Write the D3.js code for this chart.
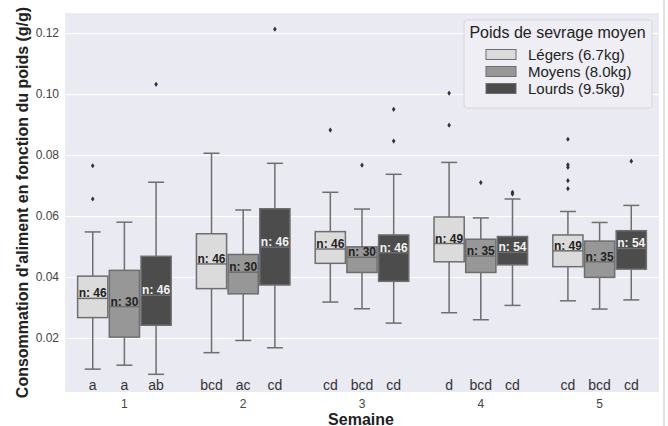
<!DOCTYPE html>
<html>
<head>
<meta charset="utf-8">
<script src="https://cdn.jsdelivr.net/npm/d3@7"></script>
<style>
  html, body { margin: 0; padding: 0; background: #ffffff; }
  svg { display: block; font-family: "Liberation Sans", Arial, sans-serif; }
</style>
</head>
<body>
<svg id="chart" width="668" height="426"></svg>
<script>
// ---------- data ----------
const weeks = ["1", "2", "3", "4", "5"];
const groups = ["Légers (6.7kg)", "Moyens (8.0kg)", "Lourds (9.5kg)"];
const legendTitle = "Poids de sevrage moyen";
const yTicks = [0.02, 0.04, 0.06, 0.08, 0.10, 0.12];

const lightLow  = [0.0098, 0.0152, 0.0318, 0.0283, 0.0322];
const lightQ1   = [0.0267, 0.0362, 0.0445, 0.0450, 0.0434];
const lightMed  = [0.0330, 0.0443, 0.0492, 0.0510, 0.0486];
const lightQ3   = [0.0403, 0.0542, 0.0549, 0.0597, 0.0538];
const lightHigh = [0.0548, 0.0806, 0.0678, 0.0776, 0.0615];
const lightOut  = [[0.0765, 0.0656], [], [0.0882], [0.1003, 0.0898], [0.0852, 0.0768, 0.0760, 0.0716, 0.0690]];
const lightN    = [46, 46, 46, 49, 49];
const lightLetters = ["a", "bcd", "cd", "d", "cd"];

const mediumLow  = [0.0111, 0.0192, 0.0296, 0.0260, 0.0295];
const mediumQ1   = [0.0203, 0.0345, 0.0415, 0.0415, 0.0399];
const mediumMed  = [0.0303, 0.0416, 0.0465, 0.0469, 0.0450];
const mediumQ3   = [0.0422, 0.0474, 0.0499, 0.0524, 0.0518];
const mediumHigh = [0.0580, 0.0620, 0.0623, 0.0594, 0.0579];
const mediumOut  = [[], [], [0.0767], [0.0710], []];
const mediumN    = [30, 30, 30, 35, 35];
const mediumLetters = ["a", "ac", "bcd", "bcd", "bcd"];

const darkLow  = [0.0081, 0.0168, 0.0249, 0.0307, 0.0325];
const darkQ1   = [0.0242, 0.0374, 0.0386, 0.0440, 0.0426];
const darkMed  = [0.0340, 0.0498, 0.0480, 0.0481, 0.0494];
const darkQ3   = [0.0468, 0.0624, 0.0538, 0.0533, 0.0552];
const darkHigh = [0.0711, 0.0773, 0.0737, 0.0656, 0.0635];
const darkOut  = [[0.1032], [0.1213], [0.0950, 0.0846], [0.0678, 0.0672], [0.0780]];
const darkN    = [46, 46, 46, 54, 54];
const darkLetters = ["ab", "cd", "cd", "cd", "cd"];

// ---------- build table ----------
const seriesDefs = [
  {low: lightLow, q1: lightQ1, med: lightMed, q3: lightQ3, high: lightHigh, out: lightOut, n: lightN, letters: lightLetters},
  {low: mediumLow, q1: mediumQ1, med: mediumMed, q3: mediumQ3, high: mediumHigh, out: mediumOut, n: mediumN, letters: mediumLetters},
  {low: darkLow, q1: darkQ1, med: darkMed, q3: darkQ3, high: darkHigh, out: darkOut, n: darkN, letters: darkLetters}
];
const boxes = [];
weeks.forEach((w, wi) => {
  groups.forEach((g, gi) => {
    const s = seriesDefs[gi];
    boxes.push({week: w, group: g, gi, low: s.low[wi], q1: s.q1[wi], med: s.med[wi], q3: s.q3[wi],
      high: s.high[wi], out: s.out[wi], n: s.n[wi], letter: s.letters[wi]});
  });
});

// ---------- style ----------
const fills = ["#dbdbdb", "#979797", "#4c4c4c"];
const nColors = ["#222222", "#222222", "#f2f2f2"];
const edge = "#6e6e6e";
const bg = "#eaeaf2";

const plot = {left: 65, right: 659, top: 13, bottom: 392};
const svg = d3.select("#chart");

const x = d3.scaleBand().domain(weeks).range([plot.left, plot.right]);
const inner = d3.scaleBand().domain(groups).range([x.bandwidth() * 0.1, x.bandwidth() * 0.9]);
const y = d3.scaleLinear().domain([0.0023, 0.1266]).range([plot.bottom, plot.top]);

// background
svg.append("rect").attr("x", plot.left).attr("y", plot.top)
  .attr("width", plot.right - plot.left).attr("height", plot.bottom - plot.top).attr("fill", bg);

// right-side divider line seen in reference
svg.append("line").attr("x1", 664).attr("x2", 664).attr("y1", 0).attr("y2", 426)
  .attr("stroke", "#e2e2e2").attr("stroke-width", 2);

// grid
const yAxis = d3.axisLeft(y).tickValues(yTicks).tickFormat(d3.format(".2f"))
  .tickSize(-(plot.right - plot.left)).tickPadding(6);
const gy = svg.append("g").attr("transform", `translate(${plot.left},0)`).call(yAxis);
gy.select(".domain").remove();
gy.selectAll(".tick line").attr("stroke", "#ffffff").attr("stroke-width", 1);
gy.selectAll(".tick text").attr("fill", "#444").style("font-size", "12px")
  .style("font-family", "'Liberation Sans', Arial, sans-serif");

const xAxis = d3.axisBottom(x).tickSize(0).tickPadding(7);
const gx = svg.append("g").attr("transform", `translate(0,${plot.bottom})`).call(xAxis);
gx.select(".domain").remove();
gx.selectAll(".tick text").attr("fill", "#444").style("font-size", "12px")
  .style("font-family", "'Liberation Sans', Arial, sans-serif");

// boxes
const bw = inner.bandwidth();
const capW = 16;
const gBox = svg.append("g");
boxes.forEach(b => {
  const x0 = x(b.week) + inner(b.group);
  const cx = x0 + bw / 2;
  const g = gBox.append("g");
  // whiskers
  g.append("line").attr("x1", cx).attr("x2", cx).attr("y1", y(b.q3)).attr("y2", y(b.high))
    .attr("stroke", edge).attr("stroke-width", 1.5);
  g.append("line").attr("x1", cx).attr("x2", cx).attr("y1", y(b.q1)).attr("y2", y(b.low))
    .attr("stroke", edge).attr("stroke-width", 1.5);
  g.append("line").attr("x1", cx - capW / 2).attr("x2", cx + capW / 2).attr("y1", y(b.high)).attr("y2", y(b.high))
    .attr("stroke", edge).attr("stroke-width", 1.5);
  g.append("line").attr("x1", cx - capW / 2).attr("x2", cx + capW / 2).attr("y1", y(b.low)).attr("y2", y(b.low))
    .attr("stroke", edge).attr("stroke-width", 1.5);
  // box
  g.append("rect").attr("x", x0 + 0.75).attr("y", y(b.q3)).attr("width", bw - 1.5)
    .attr("height", y(b.q1) - y(b.q3)).attr("fill", fills[b.gi]).attr("stroke", edge).attr("stroke-width", 1.5);
  // median
  g.append("line").attr("x1", x0 + 0.75).attr("x2", x0 + bw - 0.75).attr("y1", y(b.med)).attr("y2", y(b.med))
    .attr("stroke", edge).attr("stroke-width", 1.5);
  // outliers (thin diamonds)
  b.out.forEach(v => {
    g.append("path").attr("d", `M${cx},${y(v) - 2.6}L${cx + 1.8},${y(v)}L${cx},${y(v) + 2.6}L${cx - 1.8},${y(v)}Z`)
      .attr("fill", "#333");
  });
  // n label
  g.append("text").attr("x", cx).attr("y", y(b.med) - 1).attr("text-anchor", "middle")
    .attr("fill", nColors[b.gi]).style("font-size", "12px").style("font-weight", "bold")
    .text("n: " + b.n);
  // letters
  g.append("text").attr("x", cx).attr("y", 390).attr("text-anchor", "middle")
    .attr("fill", "#333").style("font-size", "14px").text(b.letter);
});

// axis titles
svg.append("text").attr("x", (plot.left + plot.right) / 2 - 1).attr("y", 424.5).attr("text-anchor", "middle")
  .attr("fill", "#222").style("font-size", "16px").style("font-weight", "bold").text("Semaine");
svg.append("text").attr("transform", `translate(28,${(plot.top + plot.bottom) / 2}) rotate(-90)`)
  .attr("text-anchor", "middle").attr("fill", "#222").style("font-size", "16px").style("font-weight", "bold")
  .text("Consommation d'aliment en fonction du poids (g/g)");

// legend
const lg = svg.append("g");
lg.append("rect").attr("x", 464).attr("y", 20).attr("width", 188).attr("height", 88).attr("rx", 3)
  .attr("fill", "#eeeef4").attr("stroke", "#d6d6dc").attr("stroke-width", 1);
lg.append("text").attr("x", 557.5).attr("y", 32).attr("dominant-baseline", "central").attr("text-anchor", "middle")
  .attr("fill", "#222").style("font-size", "16px").text(legendTitle);
const legY = d3.scalePoint().domain(groups).range([54.5, 88.5]);
groups.forEach((g, i) => {
  lg.append("rect").attr("x", 486).attr("y", legY(g) - 5).attr("width", 30).attr("height", 10)
    .attr("fill", fills[i]).attr("stroke", edge).attr("stroke-width", 1);
  lg.append("text").attr("x", 528).attr("y", legY(g)).attr("dominant-baseline", "central")
    .attr("fill", "#222").style("font-size", "15px").text(g);
});
</script>
</body>
</html>
